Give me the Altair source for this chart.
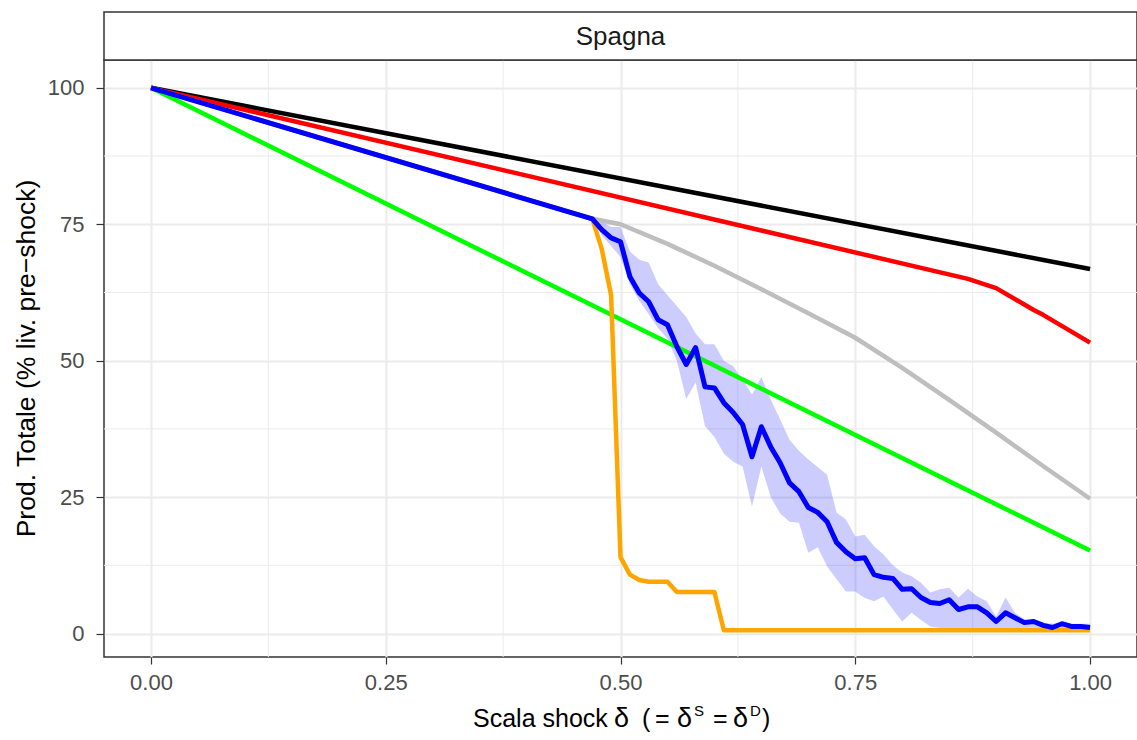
import altair as alt
import pandas as pd

# ---------------- data ----------------
black_delta = [0.0, 1.0]
black_vals = [100.0, 66.8]

green_delta = [0.0, 1.0]
green_vals = [100.0, 15.2]

red_delta = [0.0, 0.87, 0.90, 0.94, 0.95, 1.00]
red_vals = [100.0, 65.0, 63.3, 59.3, 58.4, 53.3]

gray_delta = [0.0, 0.47, 0.50, 0.55, 0.60, 0.65, 0.70, 0.75, 0.80, 0.85, 0.90, 0.95, 1.00]
gray_vals = [100.0, 76.0, 75.0, 71.4, 67.4, 63.1, 58.7, 54.2, 48.7, 42.8, 36.8, 30.7, 24.7]

orange_delta = [0.0, 0.47, 0.48, 0.49, 0.50, 0.51, 0.52, 0.53, 0.55, 0.56, 0.60, 0.61, 1.00]
orange_vals = [100.0, 76.0, 70.5, 62.0, 14.0, 10.8, 9.8, 9.5, 9.5, 7.6, 7.6, 0.6, 0.6]

blue_delta = [0.0, 0.47, 0.48, 0.49, 0.50, 0.51, 0.52, 0.53, 0.54, 0.55, 0.56,
              0.57, 0.58, 0.59, 0.60, 0.61, 0.62, 0.63, 0.64, 0.65, 0.66,
              0.67, 0.68, 0.69, 0.70, 0.71, 0.72, 0.73, 0.74, 0.75, 0.76,
              0.77, 0.78, 0.79, 0.80, 0.81, 0.82, 0.83, 0.84, 0.85, 0.86,
              0.87, 0.88, 0.89, 0.90, 0.91, 0.92, 0.93, 0.94, 0.95, 0.96,
              0.97, 0.98, 0.99, 1.00]
blue_vals = [100.0, 76.0, 74.0, 72.5, 71.8, 65.4, 62.4, 60.8, 57.5, 56.6, 52.6,
             49.3, 52.4, 45.2, 45.0, 42.3, 40.5, 38.3, 32.4, 37.9, 34.2,
             31.3, 27.6, 26.0, 23.1, 22.2, 20.5, 16.7, 15.0, 13.7, 13.9,
             10.8, 10.3, 10.1, 8.1, 8.2, 6.6, 5.7, 5.5, 6.2, 4.4,
             4.9, 4.9, 3.8, 2.2, 3.8, 2.9, 2.0, 2.2, 1.5, 1.1,
             1.8, 1.3, 1.3, 1.1]
band_lo = [100.0, 76.0, 73.0, 71.0, 69.0, 64.0, 61.0, 58.5, 56.0, 54.0, 50.0,
           43.0, 46.0, 38.0, 36.0, 33.0, 31.5, 30.6, 23.3, 30.6, 25.0,
           22.0, 20.5, 20.3, 14.8, 15.8, 12.3, 10.0, 7.7, 7.7, 6.5,
           5.9, 6.8, 4.4, 2.2, 3.8, 2.5, 1.3, 1.0, 0.7, 0.7,
           0.7, 0.6, 0.6, 0.6, 0.6, 0.6, 0.6, 0.6, 0.6, 0.6,
           0.6, 0.6, 0.6, 0.6]
band_hi = [100.0, 76.0, 75.5, 74.5, 74.5, 70.0, 68.5, 68.0, 64.0, 62.0, 60.0,
           58.0, 55.0, 53.0, 53.0, 50.0, 49.0, 46.5, 43.8, 47.0, 42.9,
           39.2, 35.5, 33.5, 31.9, 30.5, 29.1, 22.2, 20.9, 17.8, 18.1,
           16.0, 14.5, 12.5, 11.2, 10.5, 9.3, 7.5, 8.1, 8.4, 6.6,
           8.2, 6.8, 5.9, 3.1, 6.6, 3.8, 2.6, 2.6, 2.0, 1.8,
           2.0, 1.8, 1.8, 1.8]

x_ticks = [0.0, 0.25, 0.5, 0.75, 1.0]
y_ticks = [0, 25, 50, 75, 100]
x_minor = [0.125, 0.375, 0.625, 0.875]
y_minor = [12.5, 37.5, 62.5, 87.5]

strip_label = "Spagna"
y_title = "Prod. Totale (% liv. pre\u2212shock)"

# ---------------- layout ----------------
W, H = 1033, 597
FONT = "Liberation Sans"

xscale = alt.Scale(domain=[-0.05, 1.05], nice=False, zero=False)
yscale = alt.Scale(domain=[-4.3, 105.1], nice=False, zero=False)

xaxis = alt.Axis(values=x_ticks, format=".2f", title=None, labelFontSize=22,
                 labelColor="#4D4D4D", labelFont=FONT, tickColor="#333333",
                 tickSize=7, tickWidth=1.2, labelPadding=8, domain=False,
                 grid=True, gridColor="#EBEBEB", gridWidth=2)
yaxis = alt.Axis(values=y_ticks, format="d", title=y_title, labelFontSize=22,
                 labelColor="#4D4D4D", labelFont=FONT, tickColor="#333333",
                 tickSize=8, tickWidth=1.2, labelPadding=12, domain=False,
                 grid=True, gridColor="#EBEBEB", gridWidth=2,
                 titleFont=FONT, titleFontSize=26.5, titleFontWeight="normal",
                 titleColor="black", titleX=-70, titleY=298,
                 titleBaseline="alphabetic", titleAlign="center", titleAngle=270)


def series(delta, vals, color, width):
    df = pd.DataFrame({"d": delta, "v": vals})
    return alt.Chart(df).mark_line(color=color, strokeWidth=width, strokeJoin="round").encode(
        x=alt.X("d:Q", scale=xscale, axis=xaxis),
        y=alt.Y("v:Q", scale=yscale, axis=yaxis),
    )


minor_x = alt.Chart(pd.DataFrame({"g": x_minor})).mark_rule(color="#EBEBEB", strokeWidth=1).encode(
    x=alt.X("g:Q", scale=xscale, axis=xaxis))
minor_y = alt.Chart(pd.DataFrame({"g": y_minor})).mark_rule(color="#EBEBEB", strokeWidth=1).encode(
    y=alt.Y("g:Q", scale=yscale, axis=yaxis))

band_df = pd.DataFrame({"d": blue_delta, "lo": band_lo, "hi": band_hi})
band = alt.Chart(band_df).mark_area(color="#0000FF", opacity=0.2).encode(
    x=alt.X("d:Q", scale=xscale, axis=xaxis),
    y=alt.Y("lo:Q", scale=yscale, axis=yaxis),
    y2="hi:Q",
)

one = pd.DataFrame({"k": [0]})
strip_rect = alt.Chart(one).mark_rect(fill="white", stroke="#333333", strokeWidth=1.5).encode(
    x=alt.value(0), x2=alt.value(W), y=alt.value(-48), y2=alt.value(0))
strip_text = alt.Chart(one).mark_text(text=strip_label, font=FONT, fontSize=26, color="#1A1A1A",
                                      align="center", baseline="middle").encode(
    x=alt.value(W / 2), y=alt.value(-23))


def piece(txt, x, y, size):
    return alt.Chart(one).mark_text(text=txt, font=FONT, fontSize=size, color="black",
                                    align="left", baseline="alphabetic").encode(
        x=alt.value(x), y=alt.value(y))


title_parts = [
    piece("Scala shock", 369, 667, 25),
    piece("\u03b4", 510, 667, 27),
    piece("(", 538, 667, 25),
    piece("=", 551, 667, 25),
    piece("\u03b4", 573, 667, 27),
    piece("S", 590, 656, 15),
    piece("=", 609, 667, 25),
    piece("\u03b4", 629, 667, 27),
    piece("D", 646, 656, 15),
    piece(")", 658, 667, 25),
]

chart = alt.layer(
    minor_x, minor_y, band,
    series(green_delta, green_vals, "#00FF00", 4.5),
    series(black_delta, black_vals, "#000000", 4.5),
    series(red_delta, red_vals, "#FF0000", 4.5),
    series(gray_delta, gray_vals, "#BEBEBE", 4.5),
    series(orange_delta, orange_vals, "#FFA500", 4.5),
    series(blue_delta, blue_vals, "#0000FF", 5),
    strip_rect, strip_text, *title_parts,
).properties(
    width=W, height=H,
    autosize=alt.AutoSizeParams(type="none"),
    padding={"left": 104, "top": 60, "right": 0, "bottom": 83},
    background="white",
).configure_view(stroke="#333333", strokeWidth=1.5)

chart.save("out.html", embed_options={"renderer": "svg", "actions": False})
